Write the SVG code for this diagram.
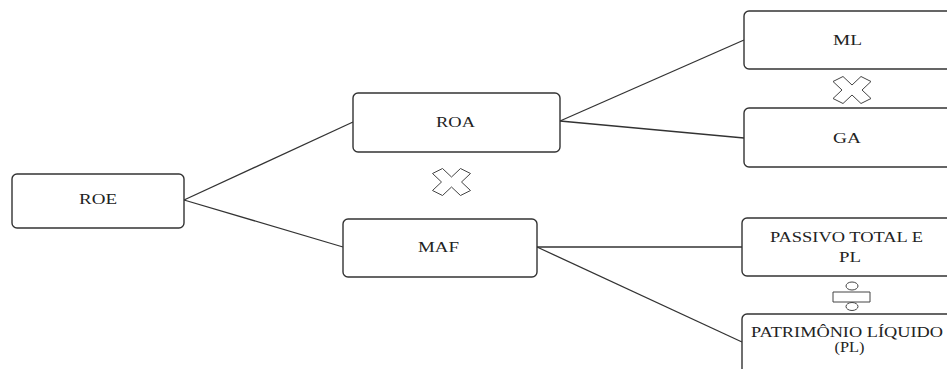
<svg xmlns="http://www.w3.org/2000/svg" width="947" height="369" viewBox="0 0 947 369">
<style>
.box{fill:#fff;stroke:#333;stroke-width:1.4}
.lbl{font-family:'Liberation Serif','DejaVu Serif','Times New Roman',serif;font-size:14.5px;fill:#222;text-anchor:middle}
.conn line{stroke:#333;stroke-width:1.3}
.op{fill:#fff;stroke:#444;stroke-width:1;stroke-linejoin:round}
</style>
<defs>
<polygon id="xmark" points="0,-5 9,-13.5 19,-8.5 10,0 19,8.5 9,13.5 0,5 -9,13.5 -19,8.5 -10,0 -19,-8.5 -9,-13.5"/>
</defs>
<rect width="947" height="369" fill="#fff"/>
<g id="connectors" class="conn">
<line x1="184" y1="200" x2="353" y2="122"/>
<line x1="184" y1="200" x2="343" y2="247"/>
<line x1="560" y1="121" x2="744" y2="40"/>
<line x1="560" y1="121" x2="744" y2="138"/>
<line x1="537" y1="247" x2="742" y2="247"/>
<line x1="537" y1="247" x2="742" y2="342"/>
</g>
<g id="roe"><rect class="box" x="12" y="174" width="172" height="54" rx="5"/><text class="lbl" font-family="Liberation Serif, serif" x="98" y="204" textLength="38" lengthAdjust="spacingAndGlyphs">ROE</text></g>
<g id="roa"><rect class="box" x="353" y="93" width="207" height="59" rx="5"/><text class="lbl" font-family="Liberation Serif, serif" x="455.5" y="127" textLength="39" lengthAdjust="spacingAndGlyphs">ROA</text></g>
<g id="maf"><rect class="box" x="343" y="219" width="194" height="58" rx="5"/><text class="lbl" font-family="Liberation Serif, serif" x="438.5" y="252" textLength="41" lengthAdjust="spacingAndGlyphs">MAF</text></g>
<g id="ml"><rect class="box" x="744" y="11" width="215" height="58" rx="5"/><text class="lbl" font-family="Liberation Serif, serif" x="847.5" y="45" textLength="29" lengthAdjust="spacingAndGlyphs">ML</text></g>
<g id="ga"><rect class="box" x="744" y="108" width="215" height="59" rx="5"/><text class="lbl" font-family="Liberation Serif, serif" x="847" y="143" textLength="28" lengthAdjust="spacingAndGlyphs">GA</text></g>
<g id="passivo"><rect class="box" x="742" y="218" width="215" height="58" rx="5"/><text class="lbl" font-family="Liberation Serif, serif" x="846.5" y="242" textLength="153" lengthAdjust="spacingAndGlyphs">PASSIVO TOTAL E</text><text class="lbl" font-family="Liberation Serif, serif" x="850" y="262" textLength="22" lengthAdjust="spacingAndGlyphs">PL</text></g>
<g id="patrimonio"><rect class="box" x="742" y="314" width="215" height="70" rx="5"/><text class="lbl" font-family="Liberation Serif, serif" x="847" y="337" textLength="192" lengthAdjust="spacingAndGlyphs">PATRIMÔNIO LÍQUIDO</text><text class="lbl" font-family="Liberation Serif, serif" x="849.5" y="352" textLength="30" lengthAdjust="spacingAndGlyphs">(PL)</text></g>
<g id="times1"><use href="#xmark" class="op" transform="translate(451.5,182)"/></g>
<g id="times2"><use href="#xmark" class="op" transform="translate(852,90)"/></g>
<g id="divide" class="op">
<ellipse cx="852" cy="286" rx="6" ry="4"/>
<rect x="833" y="292" width="37" height="10"/>
<ellipse cx="852" cy="306.5" rx="6" ry="4"/>
</g>
</svg>
